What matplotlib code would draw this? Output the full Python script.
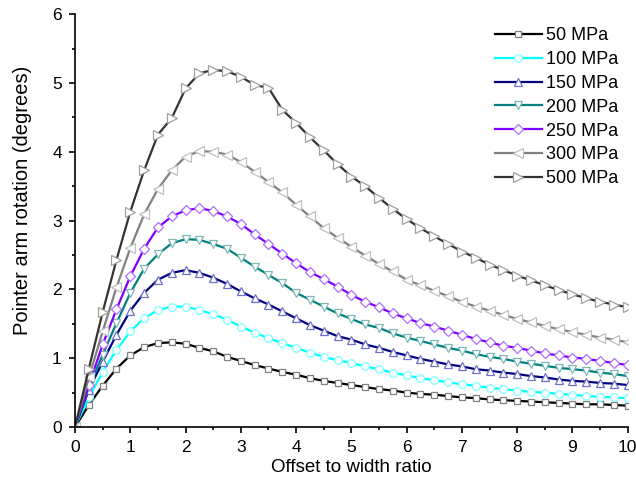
import matplotlib.pyplot as plt
import numpy as np

plt.rcParams['font.family'] = ['Liberation Sans', 'DejaVu Sans']

# Offset to width ratio (x positions of the markers)
offset = [0, 0.25, 0.5, 0.75, 1.0, 1.25, 1.5, 1.75, 2.0, 2.25, 2.5, 2.75, 3.0,
          3.25, 3.5, 3.75, 4.0, 4.25, 4.5, 4.75, 5.0, 5.25, 5.5, 5.75, 6.0,
          6.25, 6.5, 6.75, 7.0, 7.25, 7.5, 7.75, 8.0, 8.25, 8.5, 8.75, 9.0,
          9.25, 9.5, 9.75, 10.0]

# Pointer arm rotation (degrees) for each stress level
rot_50 = [0, 0.32, 0.60, 0.85, 1.04, 1.16, 1.22, 1.23, 1.21, 1.15, 1.10, 1.02, 0.96,
          0.90, 0.85, 0.80, 0.76, 0.71, 0.67, 0.64, 0.61, 0.58, 0.55, 0.53, 0.50,
          0.48, 0.47, 0.45, 0.43, 0.42, 0.40, 0.39, 0.38, 0.37, 0.36, 0.35, 0.34,
          0.33, 0.33, 0.32, 0.31]
rot_100 = [0, 0.43, 0.80, 1.12, 1.39, 1.58, 1.70, 1.75, 1.75, 1.70, 1.64, 1.56, 1.46,
           1.37, 1.29, 1.22, 1.15, 1.08, 1.02, 0.97, 0.93, 0.88, 0.84, 0.79, 0.75,
           0.71, 0.68, 0.65, 0.62, 0.60, 0.57, 0.55, 0.53, 0.51, 0.50, 0.48, 0.47,
           0.45, 0.44, 0.43, 0.42]
rot_150 = [0, 0.54, 0.95, 1.34, 1.69, 1.95, 2.14, 2.24, 2.28, 2.24, 2.17, 2.08, 1.97,
           1.87, 1.78, 1.68, 1.58, 1.48, 1.40, 1.32, 1.27, 1.20, 1.15, 1.09, 1.04,
           0.99, 0.95, 0.91, 0.88, 0.84, 0.82, 0.79, 0.77, 0.74, 0.72, 0.69, 0.67,
           0.66, 0.64, 0.63, 0.61]
rot_200 = [0, 0.58, 1.05, 1.51, 1.95, 2.30, 2.51, 2.67, 2.73, 2.72, 2.66, 2.59, 2.46,
           2.33, 2.21, 2.09, 1.95, 1.85, 1.75, 1.65, 1.57, 1.49, 1.44, 1.36, 1.30,
           1.25, 1.20, 1.15, 1.11, 1.06, 1.02, 0.99, 0.95, 0.92, 0.89, 0.86, 0.84,
           0.82, 0.79, 0.77, 0.74]
rot_250 = [0, 0.61, 1.20, 1.71, 2.19, 2.59, 2.90, 3.06, 3.15, 3.18, 3.14, 3.06, 2.95,
           2.80, 2.66, 2.52, 2.38, 2.25, 2.15, 2.04, 1.92, 1.82, 1.74, 1.65, 1.58,
           1.51, 1.46, 1.40, 1.34, 1.28, 1.23, 1.18, 1.15, 1.11, 1.07, 1.04, 1.01,
           0.99, 0.96, 0.93, 0.90]
rot_300 = [0, 0.72, 1.39, 2.03, 2.60, 3.09, 3.46, 3.73, 3.93, 4.01, 4.00, 3.96, 3.85,
           3.71, 3.56, 3.41, 3.23, 3.06, 2.89, 2.75, 2.62, 2.49, 2.37, 2.26, 2.14,
           2.06, 1.98, 1.90, 1.82, 1.75, 1.69, 1.63, 1.57, 1.52, 1.47, 1.42, 1.38,
           1.34, 1.30, 1.27, 1.23]
rot_500 = [0, 0.85, 1.67, 2.43, 3.13, 3.73, 4.25, 4.49, 4.92, 5.14, 5.19, 5.17, 5.09,
           4.97, 4.93, 4.61, 4.42, 4.21, 4.02, 3.82, 3.64, 3.50, 3.33, 3.17, 3.02,
           2.89, 2.77, 2.66, 2.55, 2.46, 2.36, 2.28, 2.20, 2.13, 2.06, 1.99, 1.93,
           1.87, 1.82, 1.78, 1.74]

labels = ['50 MPa', '100 MPa', '150 MPa', '200 MPa', '250 MPa', '300 MPa', '500 MPa']
series = [rot_50, rot_100, rot_150, rot_200, rot_250, rot_300, rot_500]

# estilo de cada curva: cor da linha, marcador, cor da borda do marcador
line_colors = ['#000000', '#00ffff', '#000080', '#008080', '#8000ff', '#808080', '#333333']
markers = ['s', 'o', '^', 'v', 'D', '<', '>']
edge_colors = ['#808080', '#80ffff', '#7070c8', '#80b8b8', '#b070ff', '#c0c0c0', '#a0a0a0']
marker_sizes = [5, 5.5, 6, 6, 5, 6.5, 6.5]

fig = plt.figure(figsize=(6.36, 4.88), dpi=100)
ax = fig.add_axes([0.118, 0.125, 0.869, 0.846])

for y, lab, lc, mk, ec, ms in zip(series, labels, line_colors, markers, edge_colors, marker_sizes):
    ax.plot(offset, y, color=lc, lw=1.6, marker=mk, markersize=ms,
            markerfacecolor='white', markeredgecolor=ec, markeredgewidth=0.9, label=lab)

ax.set_xlim(0, 10)
ax.set_ylim(0, 6)
ax.set_xticks(np.arange(0, 11, 1))
ax.set_xticks(np.arange(0.5, 10, 1), minor=True)
ax.set_yticks(np.arange(0, 7, 1))
ax.set_yticks(np.arange(0.5, 6, 1), minor=True)
ax.spines['top'].set_visible(False)
ax.spines['right'].set_visible(False)
ax.spines['left'].set_linewidth(1.2)
ax.spines['bottom'].set_linewidth(1.2)
ax.tick_params(which='major', direction='out', length=4.5, width=1.2, labelsize=12.5, pad=5)
ax.tick_params(which='minor', direction='out', length=2.5, width=1.2)

ax.set_xlabel('Offset to width ratio', fontsize=13.5, labelpad=3)
ax.set_ylabel('Pointer arm rotation (degrees)', fontsize=14.5)
ax.yaxis.set_label_coords(-0.077, 0.55)

ax.legend(loc='upper left', bbox_to_anchor=(0.73, 1.008), frameon=False, fontsize=13,
          handlelength=2.6, labelspacing=0.38, handletextpad=0.25, borderpad=0.4)

plt.savefig('out.png', dpi=100)
